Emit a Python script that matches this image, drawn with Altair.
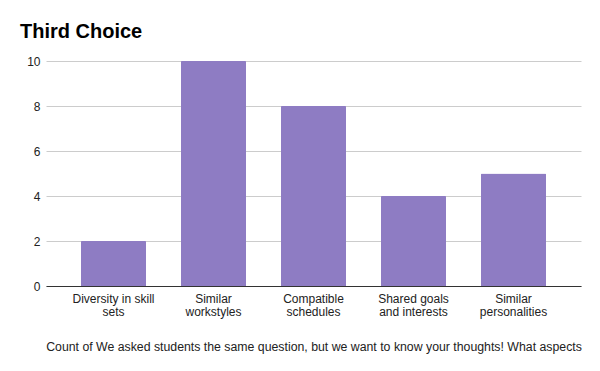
import json
import altair as alt
import pandas as pd

categories = ["Diversity in skill sets", "Similar workstyles", "Compatible schedules",
              "Shared goals and interests", "Similar personalities"]
label_lines = [["Diversity in skill", "sets"], ["Similar", "workstyles"], ["Compatible", "schedules"],
               ["Shared goals", "and interests"], ["Similar", "personalities"]]
counts = [2, 10, 8, 4, 5]
y_ticks = [0, 2, 4, 6, 8, 10]
x_title = "Count of We asked students the same question, but we want to know your thoughts! What aspects"

df = pd.DataFrame({"cat": categories, "count": counts})
mapping = json.dumps(dict(zip(categories, label_lines)))

FONT = "Liberation Sans"

chart = alt.Chart(df).mark_bar(color="#8e7cc3", cornerRadiusTopLeft=1, cornerRadiusTopRight=1).encode(
    x=alt.X("cat:N", sort=None, title=x_title,
            scale=alt.Scale(paddingInner=0.35, paddingOuter=0.35),
            axis=alt.Axis(labelExpr=f"{mapping}[datum.label]", labelAngle=0, labelFontSize=12,
                          labelColor="#222222", labelFont=FONT, labelLineHeight=13.5, labelPadding=7,
                          ticks=False, domainColor="#333333", domainWidth=1,
                          titleFont=FONT, titleFontSize=12.3, titleFontWeight="normal",
                          titleColor="#222222", titlePadding=23)),
    y=alt.Y("count:Q", title=None,
            scale=alt.Scale(domain=[0, 10]),
            axis=alt.Axis(values=y_ticks, ticks=False, domain=False, gridColor="#cccccc",
                          labelFont=FONT, labelFontSize=12, labelColor="#222222", labelPadding=6)),
).properties(
    width=535, height=225,
    autosize=alt.AutoSizeParams(type="none"),
    padding={"left": 38, "top": 53, "right": 11, "bottom": 85},
    title=alt.TitleParams("Third Choice", anchor="start", frame="group", font=FONT, fontSize=20,
                          fontWeight="bold", color="#000000", dx=-26, offset=13),
).configure_view(stroke=None)

chart.save("out.html", embed_options={"renderer": "svg", "actions": False})
